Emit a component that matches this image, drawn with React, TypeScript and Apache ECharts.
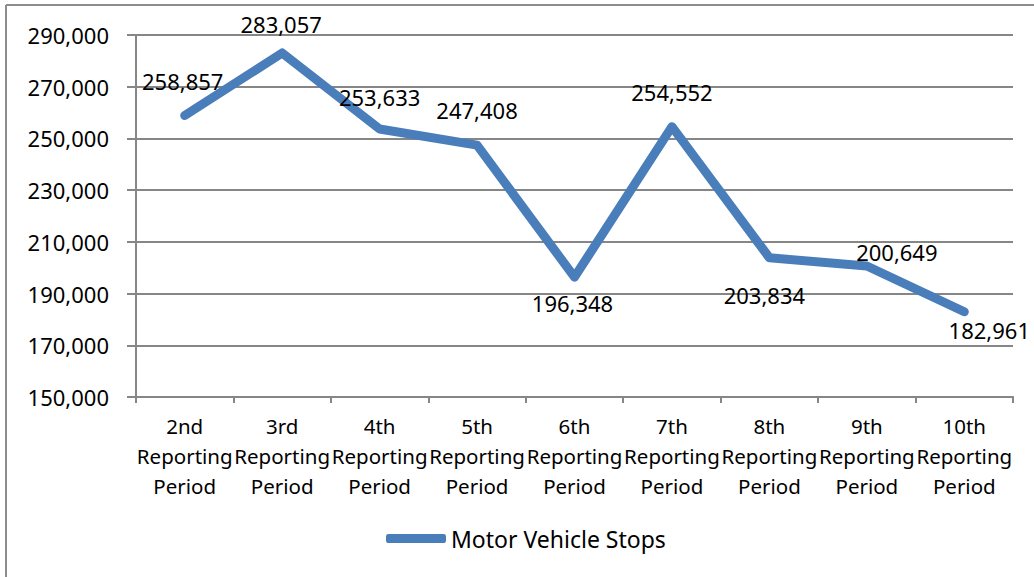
import React, { useEffect, useRef } from "react";
import * as echarts from "echarts";

const categories = [
  "2nd\nReporting\nPeriod",
  "3rd\nReporting\nPeriod",
  "4th\nReporting\nPeriod",
  "5th\nReporting\nPeriod",
  "6th\nReporting\nPeriod",
  "7th\nReporting\nPeriod",
  "8th\nReporting\nPeriod",
  "9th\nReporting\nPeriod",
  "10th\nReporting\nPeriod",
];
const seriesName = "Motor Vehicle Stops";
const stops = [258857, 283057, 253633, 247408, 196348, 254552, 203834, 200649, 182961];

// label placement (style only)
const labelOffsets: [number, number][] = [
  [-2, -35],
  [-1, -29],
  [0, -32],
  [0, -35],
  [-2, 26],
  [0, -35],
  [-5, 37],
  [30, -14],
  [25, 18],
];

const FONT = "'Noto Sans', 'Open Sans', sans-serif";
const fmt = (v: number) => v.toLocaleString("en-US");

export default function App() {
  const ref = useRef<HTMLDivElement>(null);
  useEffect(() => {
    document.body.style.margin = "0";
    const chart = echarts.init(ref.current!, null, { renderer: "svg" });
    chart.setOption({
      animation: false,
      backgroundColor: "#ffffff",
      textStyle: { fontFamily: FONT },
      graphic: [
        { type: "line", shape: { x1: 6, y1: 5, x2: 1034, y2: 5 }, style: { stroke: "#8c8c8c", lineWidth: 2 } },
        { type: "line", shape: { x1: 6, y1: 5, x2: 6, y2: 577 }, style: { stroke: "#8c8c8c", lineWidth: 2 } },
      ],
      grid: { left: 136, right: 21, top: 35, bottom: 180, containLabel: false },
      legend: {
        data: [seriesName],
        left: 386,
        top: 527,
        padding: 0,
        icon: "roundRect",
        itemWidth: 60,
        itemHeight: 9,
        itemGap: 2,
        textStyle: { fontSize: 23, color: "#000", fontFamily: FONT },
      },
      xAxis: {
        type: "category",
        data: categories,
        boundaryGap: true,
        axisLine: { lineStyle: { color: "#868686", width: 2 } },
        axisTick: { show: true, length: 6, lineStyle: { color: "#868686", width: 2 }, alignWithLabel: false },
        axisLabel: {
          interval: 0,
          margin: 14,
          fontSize: 20.5,
          lineHeight: 30,
          color: "#000",
          fontFamily: FONT,
        },
      },
      yAxis: {
        type: "value",
        min: 150000,
        max: 290000,
        interval: 20000,
        axisLine: { show: true, lineStyle: { color: "#868686", width: 2 } },
        axisTick: { show: true, length: 9, lineStyle: { color: "#868686", width: 2 } },
        splitLine: { show: true, lineStyle: { color: "#868686", width: 2 } },
        axisLabel: {
          margin: 27,
          fontSize: 22,
          color: "#000",
          fontFamily: FONT,
          formatter: (v: number) => fmt(v),
        },
      },
      series: [
        {
          name: seriesName,
          type: "line",
          data: stops.map((v, i) => ({
            value: v,
            label: { offset: labelOffsets[i] },
          })),
          symbol: "circle",
          symbolSize: 0.1,
          showSymbol: true,
          itemStyle: { color: "#4a7ebb" },
          lineStyle: { color: "#4a7ebb", width: 9, cap: "round", join: "round" },
          label: {
            show: true,
            position: "inside",
            fontSize: 22,
            color: "#000",
            fontFamily: FONT,
            formatter: (p: any) => fmt(p.value),
          },
        },
      ],
    });
    return () => chart.dispose();
  }, []);
  return <div ref={ref} style={{ width: 1034, height: 577 }} />;
}
